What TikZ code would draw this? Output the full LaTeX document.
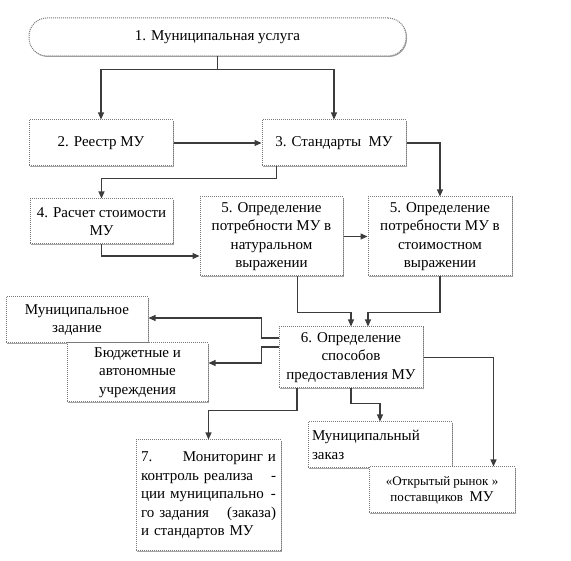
\documentclass[tikz,border=0pt]{standalone}
\usepackage{fontspec}
\setmainfont{Liberation Serif}
\newfontfamily\timesfont{Liberation Serif}
\usepackage{xcolor}
\usepackage{tikz}
\usetikzlibrary{arrows.meta,shadows,calc}
\definecolor{frame}{HTML}{7A7A7A}
\definecolor{wire}{HTML}{3C3C3C}

\begin{document}
\begin{tikzpicture}[x=1pt, y=-1pt,
  font=\timesfont\fontsize{15}{18.5}\selectfont,
  stage/.style={draw=frame, densely dotted, line width=1pt, fill=white,
    align=center, inner sep=4pt,
    drop shadow={shadow xshift=1pt, shadow yshift=-1pt, fill=black!35, opacity=1}},
  service/.style={stage, rounded corners=18pt, minimum width=377pt, minimum height=38pt},
  flow/.style={wire, line width=1.1pt, -{Triangle[length=7pt, width=6pt]}}
]
\useasboundingbox (0,0) rectangle (571,561);
\node[service] (usl) at (217.5,37) {1. Муниципальная услуга};
\node[stage, minimum width=144pt, minimum height=46pt] (reestr) at (101,143) {2. Реестр МУ};
\node[stage, minimum width=144pt, minimum height=46pt] (stand) at (334,143) {3. Стандарты\ \ МУ};
\node[stage, minimum width=143pt, minimum height=45pt] (rasch) at (101.5,221.5) {4. Расчет стоимости\\МУ};
\node[stage, minimum width=143pt, minimum height=79pt] (nat) at (271.5,236.5)
  {5. Определение\\потребности МУ в\\натуральном\\выражении};
\node[stage, minimum width=144pt, minimum height=79pt] (stoim) at (440,236.5)
  {5. Определение\\потребности МУ в\\стоимостном\\выражении};
\node[stage, minimum width=142pt, minimum height=46pt] (zadan) at (77,320) {Муниципальное\\задание};
\node[stage, minimum width=141pt, minimum height=59pt] (budzh) at (137.5,372.5)
  {Бюджетные и\\автономные\\учреждения};
\node[stage, minimum width=144pt, minimum height=61pt] (spos) at (351,357.5)
  {6. Определение\\способов\\предоставления МУ};
\node[stage, text width=135pt, align=left, inner xsep=5pt, minimum height=111pt] (monit) at (208.5,495.5)
  {7.\hfill Мониторинг и\\контроль реализа\hfill -\\ции муниципально\hfill -\\го задания\hfill (заказа)\\и стандартов МУ};
\node[stage, text width=136pt, align=left, minimum height=46pt] (zakaz) at (380,445) {Муниципальный\\заказ};
\node[stage, minimum width=146pt, minimum height=46pt, font=\timesfont\fontsize{13}{16}\selectfont] (rynok) at (442,490)
  {«Открытый рынок »\\поставщиков\ \ {\fontsize{15}{16}\selectfont МУ}};

\draw[flow] (usl.south) -- ++(0,13) -| (reestr.north);
\draw[flow] (usl.south) ++(0,13) -| (stand.north);
\draw[flow] (reestr) -- (stand);
\draw[flow] (stand.east) -| (stoim.north);
\draw[flow] ([xshift=15pt]stand.south west) -- ++(0,12) -| (rasch.north);
\draw[flow] (rasch.south) |- ([yshift=-19.5pt]nat.west);
\draw[flow] (nat) -- (stoim);
\draw[flow] ([xshift=-46pt]nat.south east) -- ++(0,36) -| (spos.north);
\draw[flow] (stoim.south) -- ++(0,36) -| ([xshift=17pt]spos.north);
\draw[flow] ([yshift=19.5pt]spos.west) -- ++(-17,0) |- ([yshift=2pt]zadan.east);
\draw[flow] ([yshift=10.5pt]spos.west) -- ++(-17,0) |- ([yshift=9.5pt]budzh.east);
\draw[flow] (spos.east) -| ([xshift=-22pt]rynok.north east);
\draw[flow] ([xshift=-54pt]spos.south) -- ++(0,22) -| (monit.north);
\draw[flow] (spos.south) -- ++(0,15) -| (zakaz.north);
\end{tikzpicture}
\end{document}
